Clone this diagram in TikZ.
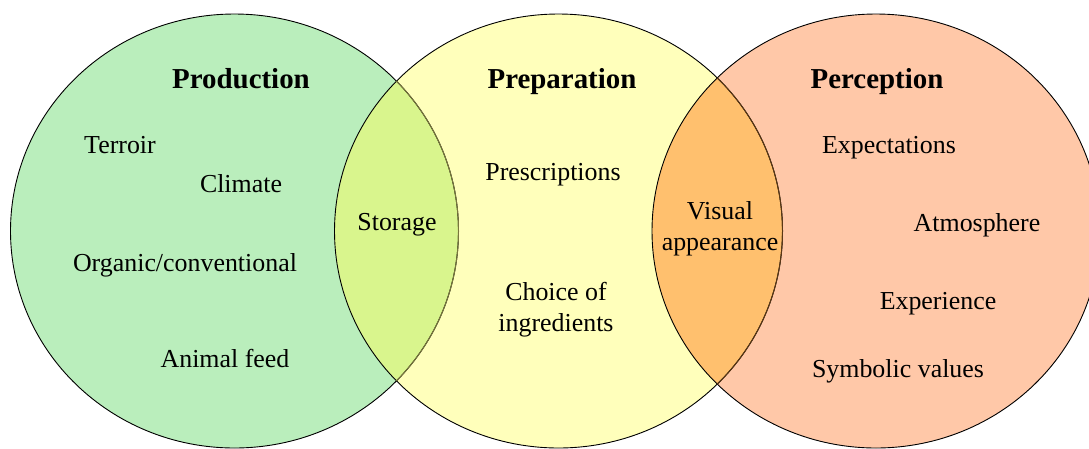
\documentclass[tikz,border=0pt]{standalone}
\usepackage{fontspec}
\setmainfont{Liberation Serif}
\usetikzlibrary{positioning}

\definecolor{prodgreen}{RGB}{186,238,188}
\definecolor{prepyellow}{RGB}{255,255,187}
\definecolor{percsalmon}{RGB}{255,200,168}
\definecolor{storelime}{RGB}{217,245,141}
\definecolor{visorange}{RGB}{255,192,110}
\definecolor{oliveline}{RGB}{120,118,60}
\definecolor{brownline}{RGB}{90,55,20}

\newcommand\prodset{(234.5,231) ellipse [x radius=224pt, y radius=217pt]}
\newcommand\prepset{(558.5,231) ellipse [x radius=224pt, y radius=217pt]}
\newcommand\percset{(876,231) ellipse [x radius=224pt, y radius=217pt]}

\tikzset{
  title/.style={font=\fontsize{28.9}{34}\selectfont\bfseries, anchor=base, inner sep=0pt},
  item/.style={font=\fontsize{25.9}{31}\selectfont, anchor=base, align=center, inner sep=0pt}
}

\begin{document}
\begin{tikzpicture}[x=1pt, y=-1pt]
        \useasboundingbox (0,0) rectangle (1089,448);

        \fill[prodgreen] \prodset;
        \fill[prepyellow] \prepset;
        \fill[percsalmon] \percset;
        \begin{scope}
                \clip \prepset;
                \fill[storelime] \prodset;
        \end{scope}
        \begin{scope}
                \clip \percset;
                \fill[visorange] \prepset;
        \end{scope}

        \draw[line width=0.9pt] \prodset;
        \draw[line width=0.9pt] \prepset;
        \draw[line width=0.9pt] \percset;
        \begin{scope}
                \clip \prepset;
                \draw[oliveline, line width=1pt] \prodset;
        \end{scope}
        \begin{scope}
                \clip \percset;
                \draw[brownline, line width=1pt] \prepset;
        \end{scope}

        \node[title] (prod) at (241,88) {Production};
        \node[title] (prep) at (562,88) {Preparation};
        \node[title] (perc) at (877,88) {Perception};

        \node[item] (terroir) at (120,153) {Terroir};
        \node[item] (climate) at (241,192) {Climate};
        \node[item] (organic) at (185,271) {Organic/conventional};
        \node[item] (feed) at (225,367) {Animal feed};

        \node[item] (storage) at (397,230) {Storage};

        \node[item] (prescr) at (553,180) {Prescriptions};
        \node[item] (choice) at (556,331) {Choice of\\ingredients};

        \node[item] (visual) at (720,250) {Visual\\appearance};

        \node[item] (expect) at (889,153) {Expectations};
        \node[item] (atmos) at (977,231) {Atmosphere};
        \node[item] (exper) at (938,309) {Experience};
        \node[item] (symb) at (898,377) {Symbolic values};
\end{tikzpicture}
\end{document}
